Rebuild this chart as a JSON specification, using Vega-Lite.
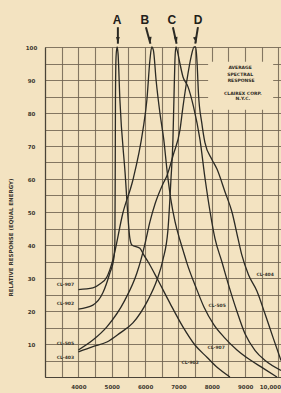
{
  "$schema": "https://vega.github.io/schema/vega-lite/v6.json",
  "width": 236,
  "height": 330,
  "autosize": {"type": "none"},
  "padding": {"left": 45, "top": 47, "right": 0, "bottom": 16},
  "background": "#f3e3c1",
  "config": {
    "view": {"stroke": null, "fill": "#f3e3c1"},
    "axis": {
      "labelFont": "DejaVu Sans",
      "labelFontWeight": "bold",
      "labelFontSize": 5.5,
      "labelColor": "#3b372e",
      "gridColor": "#6f6350",
      "gridWidth": 1.1,
      "gridOpacity": 0.85,
      "domainColor": "#4a4438",
      "domainWidth": 1.2,
      "tickSize": 0,
      "labelOverlap": false,
      "labelBound": false
    }
  },
  "datasets": {
    "curves": [
      {"c": "A", "i": 0, "wl": 4000, "r": 20.6},
      {"c": "A", "i": 1, "wl": 4435, "r": 21.8},
      {"c": "A", "i": 2, "wl": 4735, "r": 25.5},
      {"c": "A", "i": 3, "wl": 4945, "r": 31.5},
      {"c": "A", "i": 4, "wl": 5065, "r": 36},
      {"c": "A", "i": 5, "wl": 5095, "r": 41},
      {"c": "A", "i": 6, "wl": 5105, "r": 60},
      {"c": "A", "i": 7, "wl": 5112, "r": 84},
      {"c": "A", "i": 8, "wl": 5130, "r": 97},
      {"c": "A", "i": 9, "wl": 5160, "r": 100},
      {"c": "A", "i": 10, "wl": 5190, "r": 98},
      {"c": "A", "i": 11, "wl": 5245, "r": 84},
      {"c": "A", "i": 12, "wl": 5400, "r": 62},
      {"c": "A", "i": 13, "wl": 5545, "r": 42},
      {"c": "A", "i": 14, "wl": 5605, "r": 40},
      {"c": "A", "i": 15, "wl": 5845, "r": 39},
      {"c": "A", "i": 16, "wl": 5960, "r": 37},
      {"c": "A", "i": 17, "wl": 6085, "r": 35},
      {"c": "A", "i": 18, "wl": 6385, "r": 29.4},
      {"c": "A", "i": 19, "wl": 6745, "r": 22.4},
      {"c": "A", "i": 20, "wl": 7135, "r": 15.2},
      {"c": "A", "i": 21, "wl": 7495, "r": 9.7},
      {"c": "A", "i": 22, "wl": 7855, "r": 6},
      {"c": "A", "i": 23, "wl": 8185, "r": 2.7},
      {"c": "A", "i": 24, "wl": 8545, "r": 0},
      {"c": "B", "i": 0, "wl": 4000, "r": 26.5},
      {"c": "B", "i": 1, "wl": 4435, "r": 27},
      {"c": "B", "i": 2, "wl": 4645, "r": 28.2},
      {"c": "B", "i": 3, "wl": 4855, "r": 30.3},
      {"c": "B", "i": 4, "wl": 5035, "r": 35.5},
      {"c": "B", "i": 5, "wl": 5335, "r": 49.7},
      {"c": "B", "i": 6, "wl": 5635, "r": 59.7},
      {"c": "B", "i": 7, "wl": 5935, "r": 74.8},
      {"c": "B", "i": 8, "wl": 6055, "r": 84},
      {"c": "B", "i": 9, "wl": 6145, "r": 96},
      {"c": "B", "i": 10, "wl": 6200, "r": 100},
      {"c": "B", "i": 11, "wl": 6250, "r": 99},
      {"c": "B", "i": 12, "wl": 6330, "r": 90},
      {"c": "B", "i": 13, "wl": 6445, "r": 80},
      {"c": "B", "i": 14, "wl": 6560, "r": 72},
      {"c": "B", "i": 15, "wl": 6665, "r": 62},
      {"c": "B", "i": 16, "wl": 6770, "r": 54},
      {"c": "B", "i": 17, "wl": 6900, "r": 47},
      {"c": "B", "i": 18, "wl": 7045, "r": 41.5},
      {"c": "B", "i": 19, "wl": 7150, "r": 38},
      {"c": "B", "i": 20, "wl": 7255, "r": 34.5},
      {"c": "B", "i": 21, "wl": 7555, "r": 26.4},
      {"c": "B", "i": 22, "wl": 7765, "r": 21.2},
      {"c": "B", "i": 23, "wl": 8065, "r": 15.8},
      {"c": "B", "i": 24, "wl": 8365, "r": 12.1},
      {"c": "B", "i": 25, "wl": 8755, "r": 8.2},
      {"c": "B", "i": 26, "wl": 9145, "r": 5.2},
      {"c": "B", "i": 27, "wl": 9535, "r": 2.7},
      {"c": "B", "i": 28, "wl": 9955, "r": 0},
      {"c": "C", "i": 0, "wl": 4000, "r": 7.6},
      {"c": "C", "i": 1, "wl": 4435, "r": 9.2},
      {"c": "C", "i": 2, "wl": 4855, "r": 10.6},
      {"c": "C", "i": 3, "wl": 5245, "r": 13.3},
      {"c": "C", "i": 4, "wl": 5635, "r": 16.4},
      {"c": "C", "i": 5, "wl": 6085, "r": 23.3},
      {"c": "C", "i": 6, "wl": 6355, "r": 29.4},
      {"c": "C", "i": 7, "wl": 6535, "r": 35.5},
      {"c": "C", "i": 8, "wl": 6685, "r": 44.5},
      {"c": "C", "i": 9, "wl": 6775, "r": 59.7},
      {"c": "C", "i": 10, "wl": 6835, "r": 71.8},
      {"c": "C", "i": 11, "wl": 6865, "r": 84},
      {"c": "C", "i": 12, "wl": 6895, "r": 96},
      {"c": "C", "i": 13, "wl": 6925, "r": 100},
      {"c": "C", "i": 14, "wl": 6985, "r": 98},
      {"c": "C", "i": 15, "wl": 7045, "r": 95},
      {"c": "C", "i": 16, "wl": 7135, "r": 91},
      {"c": "C", "i": 17, "wl": 7285, "r": 88},
      {"c": "C", "i": 18, "wl": 7450, "r": 82},
      {"c": "C", "i": 19, "wl": 7645, "r": 72},
      {"c": "C", "i": 20, "wl": 7800, "r": 60},
      {"c": "C", "i": 21, "wl": 7950, "r": 50},
      {"c": "C", "i": 22, "wl": 8095, "r": 42},
      {"c": "C", "i": 23, "wl": 8300, "r": 35},
      {"c": "C", "i": 24, "wl": 8500, "r": 28},
      {"c": "C", "i": 25, "wl": 8750, "r": 20},
      {"c": "C", "i": 26, "wl": 9000, "r": 13},
      {"c": "C", "i": 27, "wl": 9300, "r": 8},
      {"c": "C", "i": 28, "wl": 9600, "r": 5},
      {"c": "C", "i": 29, "wl": 10075, "r": 2},
      {"c": "D", "i": 0, "wl": 4000, "r": 8.2},
      {"c": "D", "i": 1, "wl": 4435, "r": 11.2},
      {"c": "D", "i": 2, "wl": 4855, "r": 15.2},
      {"c": "D", "i": 3, "wl": 5395, "r": 23.3},
      {"c": "D", "i": 4, "wl": 5755, "r": 31.5},
      {"c": "D", "i": 5, "wl": 5875, "r": 35.5},
      {"c": "D", "i": 6, "wl": 6000, "r": 40.5},
      {"c": "D", "i": 7, "wl": 6145, "r": 47},
      {"c": "D", "i": 8, "wl": 6300, "r": 52.5},
      {"c": "D", "i": 9, "wl": 6535, "r": 58.5},
      {"c": "D", "i": 10, "wl": 6655, "r": 61},
      {"c": "D", "i": 11, "wl": 6850, "r": 67.5},
      {"c": "D", "i": 12, "wl": 7045, "r": 74.8},
      {"c": "D", "i": 13, "wl": 7135, "r": 81.8},
      {"c": "D", "i": 14, "wl": 7255, "r": 90},
      {"c": "D", "i": 15, "wl": 7380, "r": 97},
      {"c": "D", "i": 16, "wl": 7470, "r": 100},
      {"c": "D", "i": 17, "wl": 7520, "r": 100},
      {"c": "D", "i": 18, "wl": 7560, "r": 95},
      {"c": "D", "i": 19, "wl": 7600, "r": 86},
      {"c": "D", "i": 20, "wl": 7700, "r": 77},
      {"c": "D", "i": 21, "wl": 7795, "r": 71},
      {"c": "D", "i": 22, "wl": 8000, "r": 66},
      {"c": "D", "i": 23, "wl": 8155, "r": 63},
      {"c": "D", "i": 24, "wl": 8400, "r": 56},
      {"c": "D", "i": 25, "wl": 8605, "r": 50},
      {"c": "D", "i": 26, "wl": 8785, "r": 42},
      {"c": "D", "i": 27, "wl": 8900, "r": 37},
      {"c": "D", "i": 28, "wl": 9100, "r": 31},
      {"c": "D", "i": 29, "wl": 9355, "r": 26},
      {"c": "D", "i": 30, "wl": 9600, "r": 19},
      {"c": "D", "i": 31, "wl": 9835, "r": 12},
      {"c": "D", "i": 32, "wl": 10075, "r": 5}
    ],
    "curveLabels": [
      {"t": "CL-907", "wl": 3610, "r": 28},
      {"t": "CL-902", "wl": 3610, "r": 22.1},
      {"t": "CL-505", "wl": 3610, "r": 10},
      {"t": "CL-403", "wl": 3610, "r": 5.8},
      {"t": "CL-404", "wl": 9600, "r": 30.9},
      {"t": "CL-505", "wl": 8160, "r": 21.5},
      {"t": "CL-907", "wl": 8130, "r": 8.8},
      {"t": "CL-902", "wl": 7350, "r": 4.2}
    ],
    "box": [{"wl": 7890, "wl2": 9840, "r": 81, "r2": 95.5}],
    "note": [
      {"t": "AVERAGE", "wl": 8850, "r": 93.6},
      {"t": "SPECTRAL", "wl": 8850, "r": 91.6},
      {"t": "RESPONSE", "wl": 8880, "r": 89.7},
      {"t": "CLAIREX CORP.", "wl": 8930, "r": 85.8},
      {"t": "N.Y.C.", "wl": 8930, "r": 84.2}
    ],
    "arrows": [
      {"label": "A", "wl": 5185, "wl2": 5185, "r": 106, "r2": 101},
      {"label": "B", "wl": 6025, "wl2": 6160, "r": 106, "r2": 101},
      {"label": "C", "wl": 6835, "wl2": 6945, "r": 106, "r2": 101},
      {"label": "D", "wl": 7585, "wl2": 7505, "r": 106, "r2": 101}
    ],
    "heads": [
      {"label": "A", "wl": 5185, "r": 102.1},
      {"label": "B", "wl": 6150, "r": 102.1},
      {"label": "C", "wl": 6935, "r": 102.1},
      {"label": "D", "wl": 7515, "r": 102.1}
    ],
    "letters": [
      {"label": "A", "wl": 5160, "r": 108.2},
      {"label": "B", "wl": 5990, "r": 108.2},
      {"label": "C", "wl": 6800, "r": 108.2},
      {"label": "D", "wl": 7590, "r": 108.2}
    ]
  },
  "encoding": {
    "x": {
      "field": "wl", "type": "quantitative",
      "scale": {"domain": [3000, 10075], "nice": false, "zero": false},
      "axis": {
        "title": null,
        "values": [3000, 3500, 4000, 4500, 5000, 5500, 6000, 6500, 7000, 7500, 8000, 8500, 9000, 9500, 10000],
        "labelExpr": "datum.value % 1000 == 0 && datum.value >= 4000 ? (datum.value == 10000 ? '10,000' : toString(datum.value)) : ''",
        "labelPadding": 7,
        "labelOverlap": false,
        "labelFlush": 5,
        "labelFlushOffset": 2,
        "grid": true
      }
    },
    "y": {
      "field": "r", "type": "quantitative",
      "scale": {"domain": [0, 100], "nice": false, "zero": true},
      "axis": {
        "title": "RELATIVE RESPONSE (EQUAL ENERGY)",
        "titleFont": "DejaVu Sans",
        "titleFontWeight": "bold",
        "titleFontSize": 5.5,
        "titleColor": "#3b372e",
        "titleX": -35,
        "titleY": 190,
        "titleAngle": -90,
        "titleAlign": "center",
        "titleBaseline": "middle",
        "values": [0, 5, 10, 15, 20, 25, 30, 35, 40, 45, 50, 55, 60, 65, 70, 75, 80, 85, 90, 95, 100],
        "labelExpr": "datum.value % 10 == 0 && datum.value > 0 ? toString(datum.value) : ''",
        "labelAlign": "center",
        "labelPadding": 14,
        "labelOverlap": false,
        "labelFlush": false,
        "grid": true
      }
    }
  },
  "layer": [
    {
      "data": {"name": "box"},
      "mark": {"type": "rect", "fill": "#f3e3c1"},
      "encoding": {
        "x2": {"field": "wl2"},
        "y2": {"field": "r2"}
      }
    },
    {
      "data": {"name": "curves"},
      "mark": {"type": "line", "color": "#2b2a24", "strokeWidth": 1.3, "interpolate": "monotone"},
      "encoding": {
        "detail": {"field": "c"},
        "order": {"field": "i", "type": "quantitative"}
      }
    },
    {
      "data": {"name": "curveLabels"},
      "mark": {"type": "text", "font": "DejaVu Sans", "fontWeight": "bold", "fontSize": 4.5, "color": "#3b372e"},
      "encoding": {
        "text": {"field": "t"}
      }
    },
    {
      "data": {"name": "note"},
      "mark": {"type": "text", "font": "DejaVu Sans", "fontWeight": "bold", "fontSize": 4.5, "color": "#2f2b24"},
      "encoding": {
        "text": {"field": "t"}
      }
    },
    {
      "data": {"name": "arrows"},
      "mark": {"type": "rule", "color": "#2b2a24", "strokeWidth": 2},
      "encoding": {
        "x2": {"field": "wl2"},
        "y2": {"field": "r2"}
      }
    },
    {
      "data": {"name": "heads"},
      "mark": {"type": "point", "shape": "M-0.35,-0.6L0.35,-0.6L0,0.6Z", "filled": true, "color": "#2b2a24", "opacity": 1, "size": 110},
      "encoding": {
        "angle": {"field": "label", "type": "nominal", "scale": {"domain": ["A", "B", "C", "D"], "range": [0, -15, -13, 10]}, "legend": null}
      }
    },
    {
      "data": {"name": "letters"},
      "mark": {"type": "text", "font": "Liberation Sans", "fontWeight": "bold", "fontSize": 12, "color": "#222019"},
      "encoding": {
        "text": {"field": "label"}
      }
    }
  ]
}
